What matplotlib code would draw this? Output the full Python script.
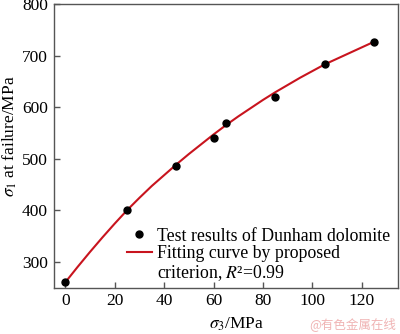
import matplotlib.pyplot as plt
from matplotlib.lines import Line2D

plt.rcParams['font.family'] = ['Liberation Serif', 'DejaVu Serif']
plt.rcParams['mathtext.fontset'] = 'stix'
plt.rcParams['font.size'] = 12.5

# test data, Dunham dolomite
sigma3 = [0, 25, 45, 60, 65, 85, 105, 125]
sigma1 = [261, 400, 486, 540, 570, 620, 683, 726]

# fitted curve by proposed criterion
fitX = [0, 5, 10, 15, 20, 25, 30, 35, 40, 45, 50, 55, 60, 65, 70, 75, 80,
        85, 90, 95, 100, 105, 110, 115, 120, 125]
fitY = [260, 290, 319, 347, 374, 400, 424, 447, 468, 489, 509, 528, 547,
        565, 582, 598, 614, 629, 643, 657, 670, 683, 694, 705, 716, 727]

xTicks = [0, 20, 40, 60, 80, 100, 120]
yTicks = [300, 400, 500, 600, 700, 800]

fig = plt.figure(figsize=(4, 3.34), dpi=100)
ax = fig.add_axes([0.134, 0.139, 0.861, 0.849])

ax.plot(fitX, fitY, color='#c8141e', lw=1.5, zorder=2)
ax.plot(sigma3, sigma1, 'o', color='black', ms=5, zorder=3)

ax.set_xlim(-4.7, 134.6)
ax.set_ylim(250, 800)
ax.set_xticks(xTicks)
ax.set_yticks(yTicks)
ax.tick_params(direction='in', length=4, width=1, color='#555555', pad=4)
for s in ax.spines.values():
    s.set_color('#555555')
    s.set_linewidth(1.0)

ax.set_xlabel(r'$\sigma_3$/MPa')
ax.xaxis.set_label_coords(0.53, -0.1)
ax.set_ylabel(r'$\sigma_1$ at failure/MPa')
ax.yaxis.set_label_coords(-0.1, 0.535)

handles = [
    Line2D([], [], ls='none', marker='o', color='black', ms=5),
    Line2D([], [], color='#c8141e', lw=1.5),
    Line2D([], [], ls='none'),
]
labels = ['Test results of Dunham dolomite',
          'Fitting curve by proposed',
          'criterion, $R$²=0.99']
ax.legend(handles, labels, loc='lower right', bbox_to_anchor=(0.991, 0.0),
          frameon=False, fontsize=12.8,
          handlelength=1.4, handletextpad=0.32, labelspacing=0.05,
          borderaxespad=0.05, borderpad=0.2)

fig.text(0.99, 0.01, '@有色金属在线', color='#f0b4b4', fontsize=9,
         ha='right', va='bottom', family=['Noto Sans CJK SC', 'DejaVu Sans'])

fig.savefig('out.png', dpi=100)
